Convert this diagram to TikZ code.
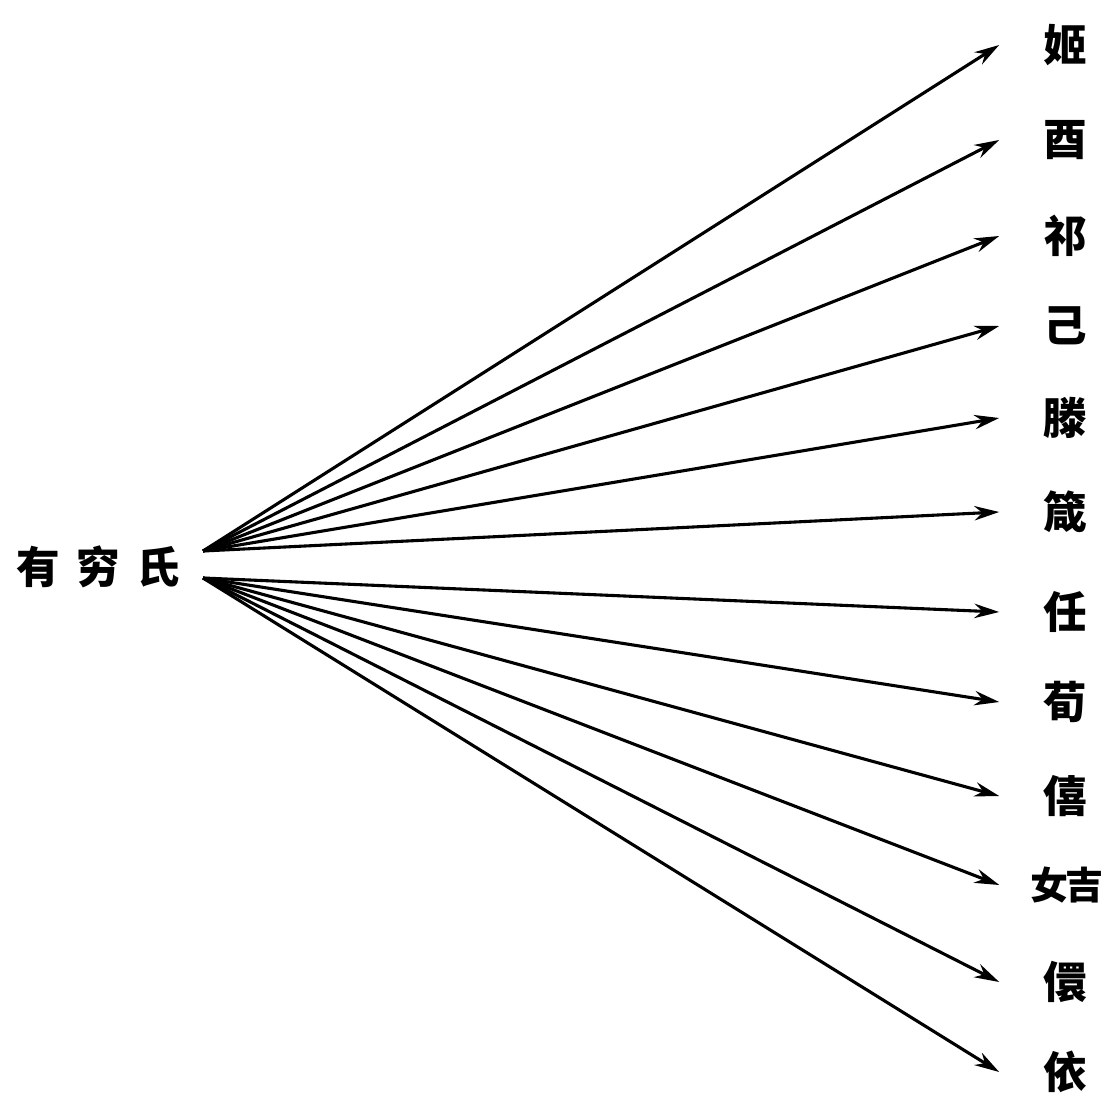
\documentclass[tikz,border=0pt]{standalone}
\usepackage{fontspec}
\newfontfamily\cjk{Noto Sans CJK SC}
\usetikzlibrary{arrows.meta}

\begin{document}
\begin{tikzpicture}[x=0.025cm,y=-0.025cm,font=\cjk\bfseries\fontsize{31}{31}\selectfont,
  xing/.style={inner sep=0pt,outer xsep=1.1cm},
  fan/.style={line width=2.2pt,-{Stealth[length=0.62cm,width=0.36cm]}}]
\useasboundingbox (0,0) rectangle (1108,1109);
\node (src) at (98,567) {有\hspace{0.38em}穷\hspace{0.38em}氏};
\coordinate (up) at (203,551);
\coordinate (dn) at (203,578);
\node[xing] (ji) at (1065,45) {姬};
\node[xing] (you) at (1065,140) {酉};
\node[xing] (qi) at (1065,236) {祁};
\node[xing] (jy) at (1065,326) {己};
\node[xing] (teng) at (1065,418) {滕};
\node[xing] (zhen) at (1065,512) {箴};
\node[xing] (ren) at (1065,612) {任};
\node[xing] (xun) at (1065,702) {荀};
\node[xing] (xi) at (1065,796) {僖};
\node[xing,outer xsep=0.78cm,font=\cjk\bfseries\fontsize{27}{27}\selectfont] (jie) at (1067,885) {女\hspace{-0.08em}吉};
\node[xing] (xuan) at (1065,982) {儇};
\node[xing] (yi) at (1065,1072) {依};
\draw[fan] (up) -- (ji.west);
\draw[fan] (up) -- (you.west);
\draw[fan] (up) -- (qi.west);
\draw[fan] (up) -- (jy.west);
\draw[fan] (up) -- (teng.west);
\draw[fan] (up) -- (zhen.west);
\draw[fan] (dn) -- (ren.west);
\draw[fan] (dn) -- (xun.west);
\draw[fan] (dn) -- (xi.west);
\draw[fan] (dn) -- (jie.west);
\draw[fan] (dn) -- (xuan.west);
\draw[fan] (dn) -- (yi.west);
\end{tikzpicture}
\end{document}
